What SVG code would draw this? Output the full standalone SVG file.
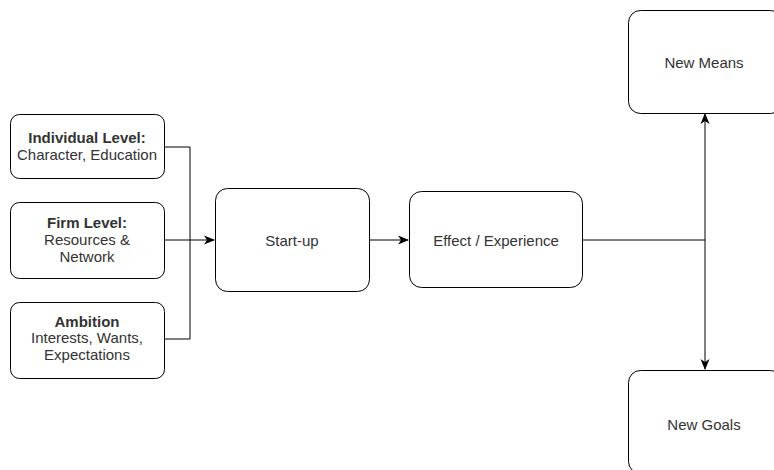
<svg xmlns="http://www.w3.org/2000/svg" width="774" height="470" viewBox="0 0 774 470">
<style>
.box{fill:#fff;stroke:#000;stroke-width:1}
.t{font-family:"Liberation Sans",Arial,Helvetica,sans-serif;font-size:15px;fill:#333;text-anchor:middle}
.b{font-weight:bold}
.c{fill:none;stroke:#000;stroke-width:1}
</style>
<defs>
<marker id="ah" viewBox="0 0 11 10" refX="10" refY="5" markerWidth="11" markerHeight="10" markerUnits="userSpaceOnUse" orient="auto-start-reverse">
<path d="M0,0.5 L11,5 L0,9.5 L3,5 Z" fill="#000"/>
</marker>
</defs>
<rect width="774" height="470" fill="#fff"/>
<g id="connectors">
<path class="c" d="M164,147 H190 V240"/>
<path class="c" d="M164,339 H190 V240"/>
<path class="c" d="M164,240 H214" marker-end="url(#ah)"/>
<path class="c" d="M369,240 H408" marker-end="url(#ah)"/>
<path class="c" d="M582,240 H705"/>
<path class="c" d="M705,369 V114" marker-start="url(#ah)" marker-end="url(#ah)"/>
</g>
<g id="individual">
<rect class="box" x="10.5" y="114.5" width="154" height="64" rx="9"/>
<text class="t b" x="87" y="143">Individual Level:</text>
<text class="t" x="87" y="160">Character, Education</text>
</g>
<g id="firm">
<rect class="box" x="10.5" y="202.5" width="154" height="76" rx="9"/>
<text class="t b" x="87" y="228">Firm Level:</text>
<text class="t" x="87" y="245">Resources &amp;</text>
<text class="t" x="87" y="262">Network</text>
</g>
<g id="ambition">
<rect class="box" x="10.5" y="302.5" width="154" height="76" rx="9"/>
<text class="t b" x="87" y="327">Ambition</text>
<text class="t" x="87" y="343">Interests, Wants,</text>
<text class="t" x="87" y="360">Expectations</text>
</g>
<g id="startup">
<rect class="box" x="215.5" y="188.5" width="154" height="103" rx="12"/>
<text class="t" x="292" y="246">Start-up</text>
</g>
<g id="effect">
<rect class="box" x="409.5" y="191.5" width="173" height="96" rx="12"/>
<text class="t" x="496" y="246">Effect / Experience</text>
</g>
<g id="newmeans">
<rect class="box" x="628.5" y="10.5" width="154" height="103" rx="12"/>
<text class="t" x="704" y="68">New Means</text>
</g>
<g id="newgoals">
<rect class="box" x="628.5" y="370.5" width="154" height="103" rx="12"/>
<text class="t" x="704" y="430">New Goals</text>
</g>
</svg>
